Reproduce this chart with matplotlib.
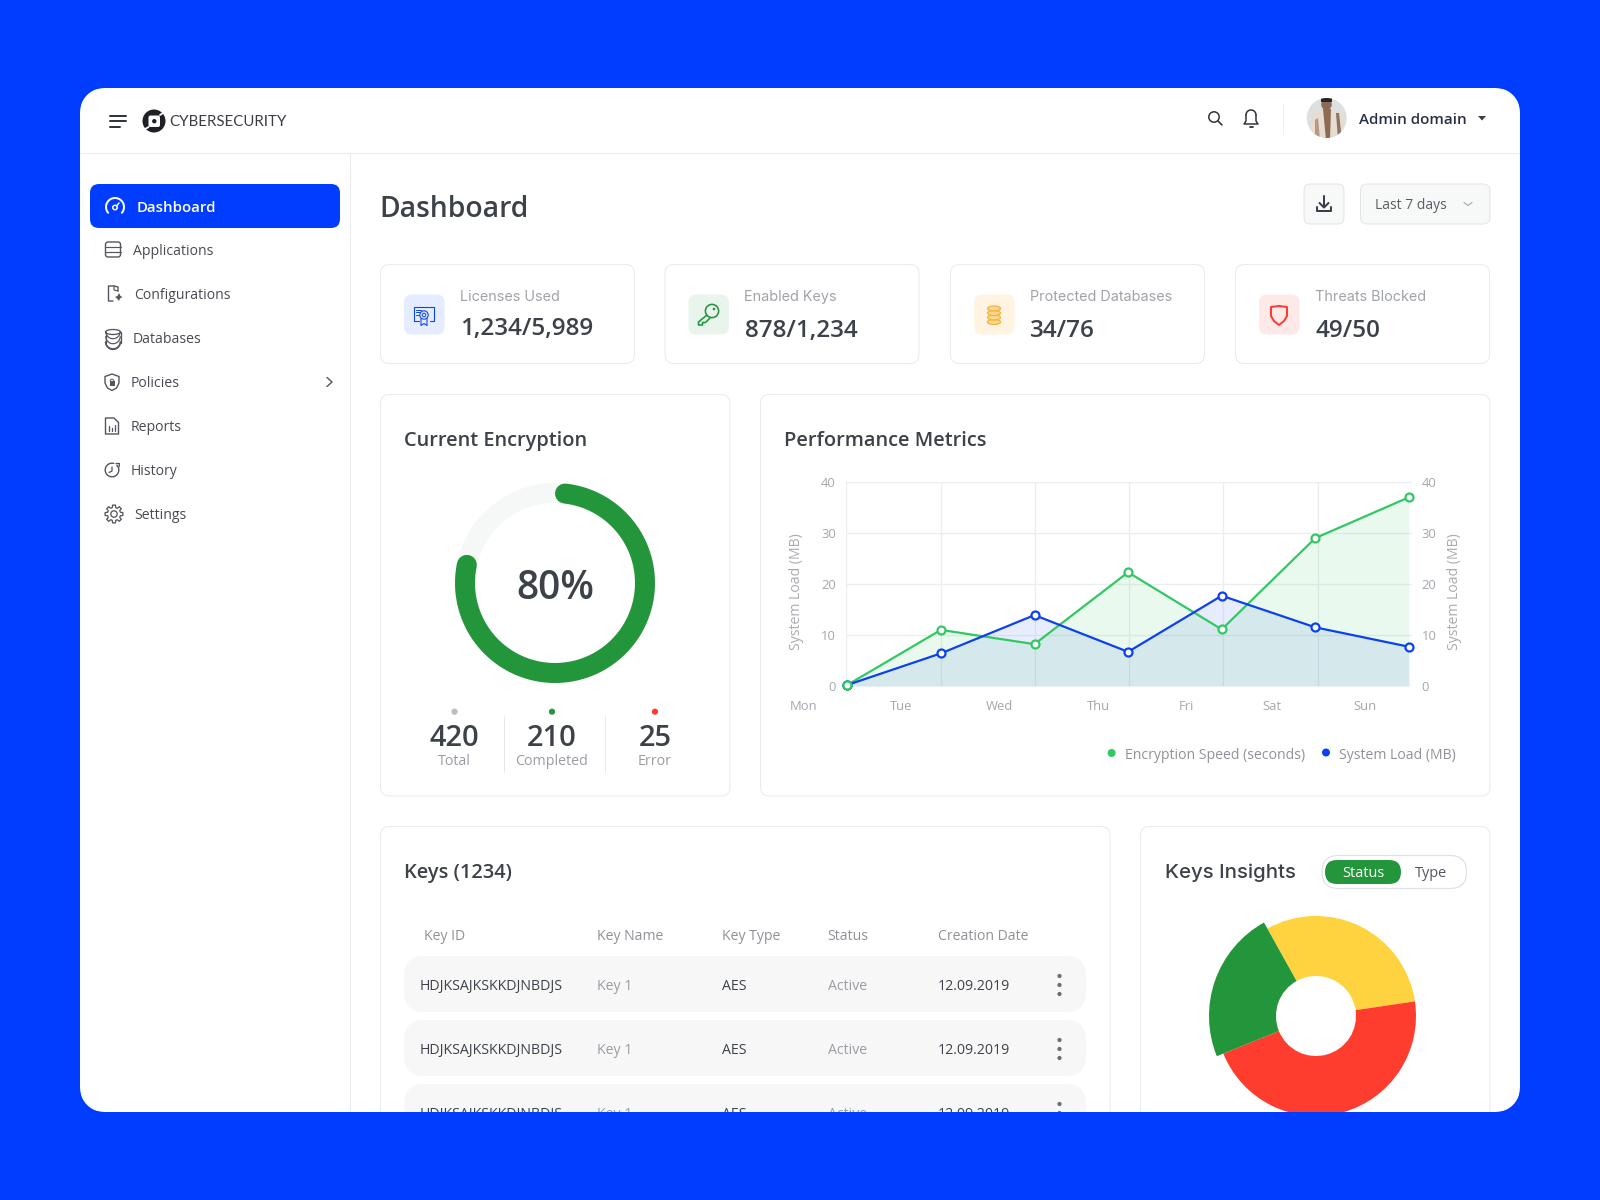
import numpy as np
import matplotlib
matplotlib.use("Agg")
import matplotlib.pyplot as plt
from matplotlib.patches import FancyBboxPatch, Circle, Polygon, Rectangle, Ellipse, PathPatch
from matplotlib.path import Path

# ---------- data ----------
days = ["Mon", "Tue", "Wed", "Thu", "Fri", "Sat", "Sun"]
encryption_speed = [0.2, 11.0, 8.2, 22.3, 11.1, 29.0, 37.0]
system_load = [0.2, 6.4, 13.9, 6.7, 17.7, 11.5, 7.7]
y_ticks = [0, 10, 20, 30, 40]
encryption_pct = 80
enc_stats_values = ["420", "210", "25"]
enc_stats_labels = ["Total", "Completed", "Error"]
insight_values = [30.75, 46.2, 23.05]
insight_colors = ["#FFD23F", "#FF3D2E", "#23963C"]
nav_items = ["Dashboard", "Applications", "Configurations", "Databases", "Policies", "Reports", "History", "Settings"]
stat_labels = ["Licenses Used", "Enabled Keys", "Protected Databases", "Threats Blocked"]
stat_values = ["1,234/5,989", "878/1,234", "34/76", "49/50"]
table_headers = ["Key ID", "Key Name", "Key Type", "Status", "Creation Date"]
table_row = ["HDJKSAJKSKKDJNBDJS", "Key 1", "AES", "Active", "12.09.2019"]

# ---------- styling ----------
BLUE = "#003DFF"
GREEN = "#23963C"
DARK = "#3D4149"
GRAY = "#9A9DA4"
EDGE = "#EAEBED"
FONT = "Open Sans"
FONT2 = "Lato"

W, H = 1600, 1200
fig = plt.figure(figsize=(16, 12), dpi=100, facecolor=BLUE)
bg = fig.add_axes([0, 0, 1, 1], zorder=0)
bg.set_xlim(0, W); bg.set_ylim(H, 0); bg.axis("off")


def px(v):
    return v * 0.72


def T(x, y, s, size, color=DARK, weight="normal", ha="left", family=FONT, ax=bg, **kw):
    return ax.text(x, y + 0.357 * size, s, fontsize=px(size), color=color, fontweight=weight,
                   ha=ha, va="baseline", family=family, **kw)


def box(x0, y0, x1, y1, r=8, fc="white", ec=EDGE, lw=1.0, ax=bg, z=1):
    p = FancyBboxPatch((x0 + r, y0 + r), x1 - x0 - 2 * r, y1 - y0 - 2 * r,
                       boxstyle=f"round,pad={r},rounding_size={r}", fc=fc, ec=ec, lw=px(lw), zorder=z)
    ax.add_patch(p)
    return p


def L(xs, ys, color=DARK, lw=1.5, z=3, cap="round", **kw):
    bg.plot(xs, ys, color=color, lw=px(lw), zorder=z, solid_capstyle=cap, solid_joinstyle="round", **kw)


def arc(cx, cy, r, a0, a1, color, lw=1.5, z=3):
    t = np.radians(np.linspace(a0, a1, 40))
    L(cx + r * np.cos(t), cy + r * np.sin(t), color, lw, z)


# white window
box(80, 88, 1520, 1112, r=24, fc="white", ec="none", z=0.5)

# header and sidebar rules
L([80, 1520], [153, 153], "#E9EAEC", 1, z=1, cap="butt")
L([350, 350], [153, 1112], "#E9EAEC", 1, z=1, cap="butt")

# header left
for yy, x1 in zip([115.7, 121, 126.5], [126, 126, 120]):
    L([110, x1], [yy, yy], "#33363D", 2)
LOGO = "#1E2026"
bg.add_patch(Circle((154, 121), 11.5, fc=LOGO, ec="none", zorder=3))
box(148.5, 115.5, 160, 127, r=2, fc="white", ec="none", z=4)
bg.add_patch(Circle((154.3, 121.2), 2.2, fc=LOGO, ec="none", zorder=5))
L([142, 148.5], [131, 127], "white", 1.8, z=5)
L([160, 166], [115, 111], "white", 1.8, z=5)
T(169.5, 121, "CYBERSECURITY", 15, "#3A3D44", family=FONT2)

# header right
bg.add_patch(Circle((1214, 117), 5.2, fc="none", ec="#2E3138", lw=px(1.5), zorder=3))
L([1218, 1222], [121, 125], "#2E3138", 1.6)
arc(1251, 115, 5, 180, 360, "#2E3138", 1.5)
L([1246, 1246, 1244, 1258, 1256, 1256], [115, 121, 124, 124, 121, 115], "#2E3138", 1.5)
L([1249.5, 1252.5], [127, 127], "#2E3138", 1.8)
L([1282.5, 1282.5], [103, 133], "#EDEEEF", 1, cap="butt")

# avatar
clip = Circle((1326.7, 118), 20, fc="#DDE0DF", ec="none", zorder=3)
bg.add_patch(clip)
for pts, c in [([(1308, 140), (1312, 114), (1322, 109), (1332, 109), (1342, 114), (1346, 140)], "#E7DCD0"),
               ([(1323, 109), (1331, 109), (1330, 140), (1326, 140)], "#8E6A55"),
               ([(1336, 113), (1339, 113), (1342, 140), (1338, 140)], "#8A7667"),
               ([(1315, 120), (1318, 118), (1320, 140), (1315, 140)], "#B49A86")]:
    p = Polygon(pts, fc=c, ec="none", zorder=4)
    bg.add_patch(p); p.set_clip_path(clip)
bg.add_patch(Circle((1326.5, 104.5), 5.3, fc="#8B6B58", ec="none", zorder=5))
p = Rectangle((1321, 97), 10.5, 5, fc="#2B2320", ec="none", zorder=6)
bg.add_patch(p); p.set_clip_path(clip)
T(1359, 119, "Admin domain", 15.1, "#2B2F45", "semibold")
bg.add_patch(Polygon([(1478, 116), (1486, 116), (1482, 120.5)], fc="#3B3E48", ec="none", zorder=3))

# sidebar
box(90, 184, 340, 228, r=9, fc=BLUE, ec="none")
nav_x = [137, 133, 134.5, 132.5, 131, 131, 131, 134.5]
nav_y = [206.5, 250, 294, 338, 382, 426, 470, 514]
for i, (name, x, y) in enumerate(zip(nav_items, nav_x, nav_y)):
    if i == 0:
        T(x, y, name, 15, "white", "semibold")
    else:
        T(x, y, name, 14, "#474A52")

ic = "#53565E"
# gauge
arc(115, 207, 9, 140, 400, "white", 2)
bg.add_patch(Circle((115, 207.5), 2.2, fc="none", ec="white", lw=px(1.5), zorder=3))
L([116.5, 119], [206, 203], "white", 1.5)
# applications
box(105.5, 242, 120.5, 257, r=2.5, fc="none", ec=ic, lw=1.4, z=3)
L([105.5, 120.5], [247, 247], ic, 1.2); L([105.5, 120.5], [252, 252], ic, 1.2)
# configurations
L([118, 118, 114, 108.5, 108.5, 113], [291, 287, 286, 286, 301, 301], ic, 1.4)
L([114, 114, 118], [286, 290, 291], ic, 1.2)
bg.add_patch(Polygon([(119, 293), (120.5, 296), (122.5, 297), (120, 298.5), (119, 301), (117, 298.5), (115, 297), (117.5, 296)],
                     fc=ic, ec="none", zorder=3))
# databases
for yy in [331, 336, 341]:
    arc(113, yy + 0.5, 7.2, 0, 180, ic, 1.2)
bg.add_patch(Ellipse((113, 332), 15, 5, fc="none", ec=ic, lw=px(1.3), zorder=3))
L([105.5, 105.5], [332, 343], ic, 1.3); L([120.5, 120.5], [332, 343], ic, 1.3)
arc(113, 342, 7.5, 0, 180, ic, 1.3)
# policies shield
bg.add_patch(Polygon([(112, 374), (119, 376.5), (119, 383), (116.5, 388), (112, 390.5), (107.5, 388), (105, 383), (105, 376.5)],
                     fc="none", ec=ic, lw=px(1.4), zorder=3, joinstyle="round"))
bg.add_patch(Rectangle((109.5, 381), 5, 4.5, fc=ic, ec="none", zorder=3))
arc(112, 381, 1.8, 180, 360, ic, 1)
L([327, 332, 327], [377.5, 382, 386.5], ic, 1.4)
# reports
bg.add_patch(Polygon([(105.5, 418), (114, 418), (118.5, 422.5), (118.5, 434), (105.5, 434)], fc="none", ec=ic, lw=px(1.4),
                     zorder=3, joinstyle="round"))
for xx, y0 in zip([109, 112, 115], [426, 428, 425]):
    L([xx, xx], [y0, 431], ic, 1.3)
# history
arc(112, 470, 6.8, -45, 285, ic, 1.4)
L([112, 112, 109], [467, 471, 472.5], ic, 1.3)
L([116, 119.5, 119], [463.5, 463.5, 467], ic, 1.3)
# settings gear
gear = []
for a in np.radians(np.arange(0, 360, 45)):
    for da, r in [(-15, 6.6), (-9, 9), (9, 9), (15, 6.6)]:
        gear.append((114 + r * np.cos(a + np.radians(da)), 514 + r * np.sin(a + np.radians(da))))
bg.add_patch(Polygon(gear, fc="none", ec=ic, lw=px(1.3), zorder=3, joinstyle="round"))
bg.add_patch(Circle((114, 514), 3.2, fc="none", ec=ic, lw=px(1.3), zorder=3))

# page title and controls
T(379.5, 207, "Dashboard", 28.2, DARK, "semibold")
box(1304, 184, 1344, 224, r=7, fc="#F7F8F8", ec="#E3E4E6")
box(1360.5, 184, 1490, 224, r=7, fc="#F7F8F8", ec="#E3E4E6")
L([1324, 1324], [196, 207], "#3B3E48", 2)
L([1319.5, 1324, 1328.5], [203, 207.5, 203], "#3B3E48", 2)
L([1317, 1317, 1331, 1331], [207, 211, 211, 207], "#3B3E48", 2)
T(1375, 204, "Last 7 days", 13.9, "#5A5D64")
L([1464, 1468, 1472], [202.5, 205.5, 202.5], "#A4A6AB", 1.1)

# stat cards
card_x = [380.5, 665, 950.5, 1235.5]
icon_bg = ["#E5ECFF", "#E9F5EC", "#FFF4E2", "#FFE9E8"]
icon_fg = ["#0A47F0", "#22963C", "#F5B13C", "#FF3B30"]
for i, x in enumerate(card_x):
    box(x, 264.5, x + 254, 363.5, r=9, ec=EDGE)
    box(x + 23.5, 294.5, x + 64, 334.5, r=8, fc=icon_bg[i], ec="none")
    T(x + 79.5, 296, stat_labels[i], 14.4, "#A0A3AA", family="Inter")
    T(x + 79.5, 326.5 + (0 if i == 0 else 1.5), stat_values[i], 24.3, DARK, "semibold")
# stat icons
cx, cy = card_x[0] + 43.5, 314.5
f = icon_fg[0]
L([cx - 5, cx - 10, cx - 10, cx + 10, cx + 10, cx + 6], [cy + 6.5, cy + 6.5, cy - 8, cy - 8, cy + 6.5, cy + 6.5], f, 1.1)
L([cx - 8, cx - 3], [cy - 5, cy - 5], f, 1); L([cx - 8, cx - 4], [cy - 2.5, cy - 2.5], f, 1); L([cx - 8, cx - 5], [cy, cy], f, 1)
bg.add_patch(Circle((cx, cy + 0.5), 4.2, fc="none", ec=f, lw=px(1.1), zorder=3))
bg.add_patch(Circle((cx, cy + 0.5), 1.8, fc="none", ec=f, lw=px(1), zorder=3))
L([cx - 3, cx - 3, cx, cx + 3, cx + 3], [cy + 4, cy + 11, cy + 9, cy + 11, cy + 4], f, 1.1)
cx = card_x[1] + 43.5
f = icon_fg[1]
bg.add_patch(Circle((cx + 3.5, 311), 6.6, fc="none", ec=f, lw=px(1.6), zorder=3))
bg.add_patch(Circle((cx + 5.5, 309), 1.3, fc=f, ec="none", zorder=3))
L([cx - 1.5, cx - 10, cx - 10, cx - 6, cx - 6, cx - 3, cx + 1.5], [315, 322, 325, 325, 322.5, 322.5, 318], f, 1.6)
cx = card_x[2] + 43.5
f = icon_fg[2]
for yy in [322, 317.5, 313, 308.5]:
    bg.add_patch(Ellipse((cx, yy), 13, 5, fc="#FBD88E", ec=f, lw=px(1.2), zorder=3))
cx = card_x[3] + 43.5
f = icon_fg[3]
bg.add_patch(Polygon([(cx - 8, 307), (cx, 306), (cx + 8, 307), (cx + 8, 316), (cx + 5, 321), (cx, 325), (cx - 5, 321), (cx - 8, 316)],
                     fc="none", ec=f, lw=px(2), zorder=3, joinstyle="round"))

# encryption card
box(380.5, 394.5, 730, 796, r=9, ec=EDGE)
T(404, 438.5, "Current Encryption", 20.05, DARK, "semibold")
don = fig.add_axes([(555 - 105) / W, 1 - (583 + 105) / H, 210 / W, 210 / H], zorder=2)
don.set_xlim(-105, 105); don.set_ylim(-105, 105); don.axis("off"); don.patch.set_alpha(0)
t = np.linspace(0, 2 * np.pi, 300)
don.plot(90 * np.cos(t), 90 * np.sin(t), color="#F6F8F7", lw=px(20), solid_capstyle="butt")
cap = np.degrees(10 / 90)
sweep = 360 * encryption_pct / 100
th = np.radians(np.linspace(cap, sweep - cap, 300))
don.plot(90 * np.sin(th), 90 * np.cos(th), color=GREEN, lw=px(20), solid_capstyle="round")
T(555, 585, f"{encryption_pct}%", 39, DARK, "semibold", ha="center", zorder=5)
sx = [454.5, 552, 655]
sc = ["#BDBDBD", GREEN, "#FF3B30"]
for x, v, l, c in zip(sx, enc_stats_values, enc_stats_labels, sc):
    bg.add_patch(Circle((x, 711.7), 3.1, fc=c, ec="none", zorder=3))
    T(x, 735.5, v, 29, DARK, "semibold", ha="center")
    T(x, 760, l, 14.3, GRAY, ha="center")
for x in [504, 605]:
    L([x, x], [716, 772], "#E6E7E9", 1, cap="butt")

# performance card
box(760.5, 394.5, 1490, 796, r=9, ec=EDGE)
T(784, 438.5, "Performance Metrics", 20.05, DARK, "semibold")
ax_l, ax_r, ax_t, ax_b = 846.4, 1412.0, 482.0, 686.0
ax = fig.add_axes([ax_l / W, 1 - ax_b / H, (ax_r - ax_l) / W, (ax_b - ax_t) / H], zorder=2)
ax.patch.set_alpha(0)
x_idx = np.arange(len(days))
ax.set_xlim(-0.0096, 6.033)
ax.set_ylim(0, 40)
ax.set_xticks(np.linspace(-0.0096, 6.033, 7))
ax.set_yticks(y_ticks)
ax.grid(True, color="#ECEDEF", lw=px(1.3), zorder=0)
ax.set_axisbelow(True)
for s in ax.spines.values():
    s.set_visible(False)
ax.tick_params(length=0, labelbottom=False, labelsize=px(13), labelcolor="#A5A7AD", pad=7.5)
G = "#2FC862"; B = "#0A40F2"
ax.fill_between(x_idx, system_load, 0, color=B, alpha=0.09, lw=0, zorder=1)
ax.fill_between(x_idx, encryption_speed, 0, color=G, alpha=0.10, lw=0, zorder=1.1)
mk = dict(marker="o", ms=px(8), mfc="white", mew=px(2.2), clip_on=False)
ax.plot(x_idx, encryption_speed, color=G, lw=px(2.2), mec=G, zorder=3, **mk)
ax.plot(x_idx, system_load, color=B, lw=px(2.2), mec=B, zorder=4, **mk)
ax.plot(x_idx[0], encryption_speed[0], color=G, mec=G, zorder=5, **mk)
ar = ax.twinx()
ar.set_ylim(0, 40); ar.set_yticks(y_ticks)
ar.tick_params(length=0, labelsize=px(13), labelcolor="#A5A7AD", pad=7)
ar.patch.set_alpha(0)
for s in ar.spines.values():
    s.set_visible(False)
for a in ax.get_yticklabels() + ar.get_yticklabels():
    a.set_family(FONT)
label_dx_px = [-43.3, -40, -35.5, -30, -35.7, -43, -44]
for i, (d, dx) in enumerate(zip(days, label_dx_px)):
    ax.annotate(d, xy=(x_idx[i], 0), xycoords="data", xytext=(px(dx), px(-21)), textcoords="offset points",
                ha="center", va="center", fontsize=px(13), color="#A5A7AD", family=FONT, annotation_clip=False)
for x in [796.5, 1454]:
    bg.text(x, 592, "System Load (MB)", rotation=90, ha="center", va="center", fontsize=px(14), color="#A9ABB1", family=FONT, zorder=3)
bg.add_patch(Circle((1111.6, 753), 4, fc=G, ec="none", zorder=3))
T(1125, 754, "Encryption Speed (seconds)", 14, "#8F9298")
bg.add_patch(Circle((1326, 752.5), 4, fc=B, ec="none", zorder=3))
T(1338.8, 754, "System Load (MB)", 14, "#8F9298")

# keys table
box(380.5, 826.5, 1110, 1180, r=9, ec=EDGE)
T(404, 871, "Keys (1234)", 20, DARK, "semibold")
col_x = [424, 597, 722, 827.5, 938]
for x, h in zip(col_x, table_headers):
    T(x, 935, h, 14, "#8E9197")
row_x = [420, 597, 722, 828, 938]
row_col = [DARK, GRAY, DARK, GRAY, DARK]
for y0, y1 in [(956, 1012), (1020, 1076), (1084, 1140)]:
    box(404, y0, 1086, y1, r=20, fc="#F7F7F7", ec="none")
    yc = (y0 + y1) / 2 + 1
    for x, v, c in zip(row_x, table_row, row_col):
        T(x, yc, v, 14.15, c, zorder=3)
    for dy in [-9, 0, 9]:
        bg.add_patch(Circle((1059.5, yc + dy), 2.1, fc="#6A6D74", ec="none", zorder=3))

# insights card
box(1140.5, 826.5, 1490, 1180, r=9, ec=EDGE)
T(1165, 871, "Keys Insights", 20.4, DARK, "medium", family="Inter")
box(1322, 855.5, 1466.5, 888.5, r=16.5, fc="white", ec="#E0E1E3", lw=1.2)
box(1325, 860, 1401, 884, r=12, fc=GREEN, ec="none", z=2)
T(1363, 872, "Status", 14.5, "white", ha="center", zorder=3)
T(1431, 872, "Type", 14.5, "#53565E", ha="center", zorder=3)
pie = fig.add_axes([(1316 - 115) / W, 1 - (1016 + 115) / H, 230 / W, 230 / H], zorder=2)
wedges, _ = pie.pie(insight_values, colors=insight_colors, radius=100, startangle=119.1, counterclock=False,
                    wedgeprops=dict(width=60, lw=0))
wedges[2].set_radius(107)
wedges[2].set_width(67)
pie.set_xlim(-115, 115); pie.set_ylim(-115, 115); pie.patch.set_alpha(0)

# blue frame on top, which crops everything to the rounded window
top = fig.add_axes([0, 0, 1, 1], zorder=10)
top.set_xlim(0, W); top.set_ylim(H, 0); top.axis("off"); top.patch.set_alpha(0)
R = 24; x0, y0, x1, y1 = 80, 88, 1520, 1112
pts = []
for (cxx, cyy, a0) in [(x1 - R, y0 + R, -90), (x1 - R, y1 - R, 0), (x0 + R, y1 - R, 90), (x0 + R, y0 + R, 180)]:
    for a in np.radians(np.linspace(a0, a0 + 90, 12)):
        pts.append((cxx + R * np.cos(a), cyy + R * np.sin(a)))
pts = np.array(pts)
outer = np.array([(0, 0), (0, H), (W, H), (W, 0), (0, 0)], float)
verts = np.vstack([outer, pts, pts[:1]])
codes = [Path.MOVETO] + [Path.LINETO] * 3 + [Path.CLOSEPOLY] + [Path.MOVETO] + [Path.LINETO] * (len(pts) - 1) + [Path.CLOSEPOLY]
top.add_patch(PathPatch(Path(verts, codes), fc=BLUE, ec="none"))

fig.savefig("out.png", dpi=100, facecolor=BLUE)
